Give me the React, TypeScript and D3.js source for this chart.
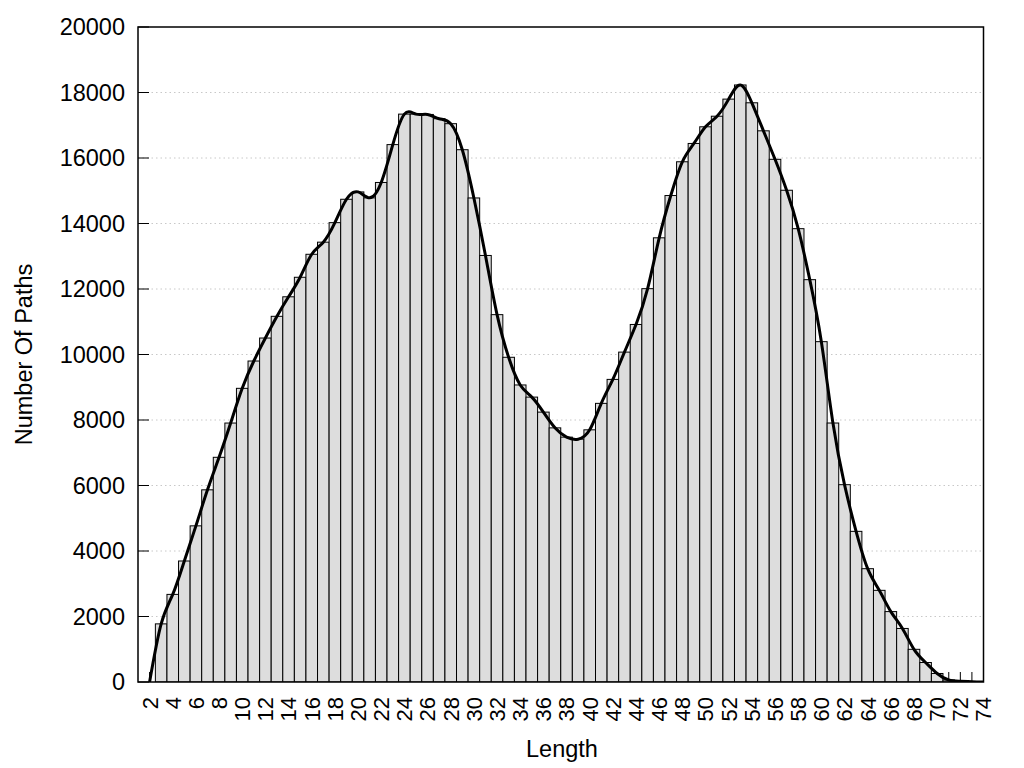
import React from "react";
import * as d3 from "d3";

// Path lengths (x) and number of paths (y)
const lengths: number[] = d3.range(2, 75);
const counts: number[] = [
  0, 1775, 2675, 3695, 4768, 5868, 6861, 7907, 8967, 9801,
  10503, 11166, 11762, 12358, 13060, 13430, 14026, 14740, 14964, 14783,
  15253, 16409, 17340, 17340, 17330, 17200, 17048, 16253, 14780, 13024,
  11217, 9915, 9070, 8699, 8241, 7760, 7477, 7415, 7700, 8508,
  9240, 10073, 10917, 12010, 13563, 14854, 15885, 16444, 16953, 17276,
  17798, 18230, 17686, 16830, 15960, 15015, 13842, 12285, 10392, 7908,
  6025, 4600, 3460, 2799, 2150, 1635, 998, 595, 260, 60,
  25, 10, 0,
];
const yTicks: number[] = [0, 2000, 4000, 6000, 8000, 10000, 12000, 14000, 16000, 18000, 20000];
const xTickLabels: number[] = d3.range(2, 75, 2);
const xTickMarks: number[] = d3.range(2, 75);

const W = 1024;
const H = 768;
const left = 138;
const right = 983.5;
const top = 27;
const bottom = 682;
const FONT = "'Liberation Sans', Arial, sans-serif";

export default function App() {
  const x = d3.scaleLinear().domain([1, 74]).range([left, right]);
  const y = d3.scaleLinear().domain([0, 20000]).range([bottom, top]);
  const bw = x(1) - x(0);
  const data = lengths.map((l, i) => ({ l, v: counts[i] }));
  const line = d3
    .line<{ l: number; v: number }>()
    .x((d) => x(d.l))
    .y((d) => y(d.v))
    .curve(d3.curveNatural);

  return (
    <div style={{ position: "fixed", left: 0, top: 0 }}>
      <svg width={W} height={H} style={{ display: "block", background: "#fff" }}>
        <defs>
          <clipPath id="plotclip">
            <rect x={left} y={top} width={right - left} height={bottom - top} />
          </clipPath>
        </defs>
        {/* grid */}
        {yTicks.slice(1, -1).map((t) => (
          <line
            key={"g" + t}
            x1={left}
            x2={right}
            y1={y(t)}
            y2={y(t)}
            stroke="#c8c8c8"
            strokeWidth={1}
            strokeDasharray="1.5,3"
          />
        ))}
        {/* x tick marks (behind bars) */}
        {xTickMarks.map((t) => (
          <line key={"xt" + t} x1={x(t)} x2={x(t)} y1={bottom} y2={bottom - 10} stroke="#000" strokeWidth={1} />
        ))}
        {/* bars */}
        <g clipPath="url(#plotclip)">
          {data
            .filter((d) => d.v > 0)
            .map((d) => (
              <rect
                key={"b" + d.l}
                x={x(d.l) - bw / 2}
                y={y(d.v)}
                width={bw}
                height={bottom - y(d.v)}
                fill="#dddddd"
                stroke="#000"
                strokeWidth={1}
              />
            ))}
          <path d={line(data) || ""} fill="none" stroke="#000" strokeWidth={3} strokeLinejoin="round" />
        </g>
        {/* y ticks */}
        {yTicks.map((t) => (
          <g key={"yt" + t}>
            <line x1={left} x2={left + 11} y1={y(t)} y2={y(t)} stroke="#000" strokeWidth={1} />
            <text
              x={125}
              y={y(t)}
              dy="0.36em"
              textAnchor="end"
              fontFamily={FONT}
              fontSize={23.5}
              fill="#000"
            >
              {t}
            </text>
          </g>
        ))}
        {/* x labels */}
        {xTickLabels.map((t) => (
          <text
            key={"xl" + t}
            transform={`translate(${x(t)},${bottom + 15}) rotate(-90)`}
            dy="0.36em"
            textAnchor="end"
            fontFamily={FONT}
            fontSize={22}
            fill="#000"
          >
            {t}
          </text>
        ))}
        {/* frame */}
        <rect x={left} y={top} width={right - left} height={bottom - top} fill="none" stroke="#000" strokeWidth={1.5} />
        {/* axis titles */}
        <text x={562} y={757} textAnchor="middle" fontFamily={FONT} fontSize={23.5} fill="#000">
          Length
        </text>
        <text
          transform={`translate(32,${(top + bottom) / 2}) rotate(-90)`}
          textAnchor="middle"
          fontFamily={FONT}
          fontSize={23.5}
          fill="#000"
        >
          Number Of Paths
        </text>
      </svg>
    </div>
  );
}
